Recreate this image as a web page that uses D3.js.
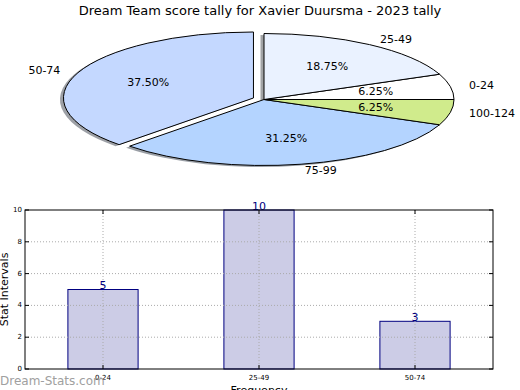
<!DOCTYPE html>
<html>
<head>
<meta charset="utf-8">
<script src="https://cdn.jsdelivr.net/npm/d3@7"></script>
<style>
  body { margin: 0; background: #fff; }
  svg { font-family: "DejaVu Sans", sans-serif; display: block; }
</style>
</head>
<body>
<div id="chart"></div>
<script>
// pie data (matplotlib order, counter-clockwise from 3 o'clock)
const pieLabels = ["0-24", "25-49", "50-74", "75-99", "100-124"];
const pieValues = [1, 3, 6, 5, 1];
const pieColors = ["#ffffff", "#eaf2ff", "#c4d8ff", "#b4d4ff", "#d0eb8c"];
const pieExplode = [0, 0, 0.06, 0, 0];

// bar data
const barCategories = ["0-24", "25-49", "50-74"];
const barValues = [5, 10, 3];
const yTicks = [0, 2, 4, 6, 8, 10];

const W = 520, H = 390;
const svg = d3.select("#chart").append("svg")
  .attr("width", W).attr("height", H);

svg.append("text")
  .attr("x", 260).attr("y", 15)
  .attr("text-anchor", "middle")
  .style("font-size", "13px")
  .text("Dream Team score tally for Xavier Duursma - 2023 tally");

// ---- pie ----
const cx = 264, cy = 99.5, rx = 190, ry = 66, R = 100;

const pie = d3.pie().sort(null)
  .startAngle(Math.PI / 2)
  .endAngle(Math.PI / 2 - 2 * Math.PI);
const arcs = pie(pieValues);
const arc = d3.arc().innerRadius(0).outerRadius(R);
const total = d3.sum(pieValues);

function offset(d, i) {
  const mid = (d.startAngle + d.endAngle) / 2;
  const e = pieExplode[i];
  return [e * rx * Math.sin(mid), -e * ry * Math.cos(mid)];
}

const pieG = svg.append("g");

// shadows first
arcs.forEach((d, i) => {
  const [ox, oy] = offset(d, i);
  const c = d3.rgb(pieColors[i]);
  pieG.append("path")
    .attr("d", arc(d))
    .attr("transform", `translate(${cx + ox - 3.5},${cy + oy + 1.5}) scale(${rx / R},${ry / R})`)
    .attr("fill", d3.rgb(c.r * 0.3, c.g * 0.3, c.b * 0.3))
    .attr("fill-opacity", 0.5);
});

arcs.forEach((d, i) => {
  const [ox, oy] = offset(d, i);
  pieG.append("path")
    .attr("d", arc(d))
    .attr("transform", `translate(${cx + ox},${cy + oy}) scale(${rx / R},${ry / R})`)
    .attr("fill", pieColors[i])
    .attr("stroke", "#000")
    .attr("stroke-width", 1)
    .attr("vector-effect", "non-scaling-stroke");
});

arcs.forEach((d, i) => {
  const [ox, oy] = offset(d, i);
  const mid = (d.startAngle + d.endAngle) / 2;
  const sx = Math.sin(mid), sy = -Math.cos(mid);
  // percentage
  pieG.append("text")
    .attr("x", cx + ox + 0.6 * rx * sx)
    .attr("y", cy + oy + 0.6 * ry * sy)
    .attr("text-anchor", "middle")
    .attr("dominant-baseline", "central")
    .style("font-size", "11px")
    .text((100 * d.value / total).toFixed(2) + "%");
  // outer label
  pieG.append("text")
    .attr("x", cx + ox + 1.1 * rx * sx)
    .attr("y", cy + oy + 1.1 * ry * sy)
    .attr("text-anchor", sx > 0 ? "start" : "end")
    .attr("dominant-baseline", "central")
    .style("font-size", "11px")
    .text(pieLabels[i]);
});

// ---- bar chart ----
const bx0 = 25, bx1 = 493, by0 = 210, by1 = 369;
const x = d3.scaleBand().domain(barCategories).range([bx0, bx1]);
const y = d3.scaleLinear().domain([0, 10]).range([by1, by0]);
const barW = x.bandwidth() * 0.45;

const barG = svg.append("g");

barG.selectAll(".bar")
  .data(barValues)
  .enter()
  .append("rect")
  .attr("class", "bar")
  .attr("x", (d, i) => x(barCategories[i]) + x.bandwidth() / 2 - barW / 2)
  .attr("y", (d) => y(d))
  .attr("width", barW)
  .attr("height", (d) => y(0) - y(d))
  .attr("fill", "#ccccE6")
  .attr("stroke", "#000080")
  .attr("stroke-width", 1);

// grid on top of bars
yTicks.slice(1, -1).forEach((t) => {
  barG.append("line")
    .attr("x1", bx0).attr("x2", bx1)
    .attr("y1", y(t)).attr("y2", y(t))
    .attr("stroke", "#aaa").attr("stroke-dasharray", "1,2");
});
barCategories.forEach((c) => {
  const cxb = x(c) + x.bandwidth() / 2;
  barG.append("line")
    .attr("x1", cxb).attr("x2", cxb)
    .attr("y1", by0).attr("y2", by1)
    .attr("stroke", "#aaa").attr("stroke-dasharray", "1,2");
});

// value labels
barG.selectAll(".val")
  .data(barValues)
  .enter()
  .append("text")
  .attr("class", "val")
  .attr("x", (d, i) => x(barCategories[i]) + x.bandwidth() / 2)
  .attr("y", (d) => y(d) - 0.5)
  .attr("text-anchor", "middle")
  .attr("fill", "#000080")
  .style("font-size", "11px")
  .text((d) => d);

// frame
barG.append("rect")
  .attr("x", bx0).attr("y", by0)
  .attr("width", bx1 - bx0).attr("height", by1 - by0)
  .attr("fill", "none").attr("stroke", "#000");

// ticks (inside) and labels
yTicks.forEach((t) => {
  barG.append("line").attr("x1", bx0).attr("x2", bx0 + 4)
    .attr("y1", y(t)).attr("y2", y(t)).attr("stroke", "#000");
  barG.append("line").attr("x1", bx1).attr("x2", bx1 - 4)
    .attr("y1", y(t)).attr("y2", y(t)).attr("stroke", "#000");
  barG.append("text")
    .attr("x", bx0 - 3).attr("y", y(t))
    .attr("text-anchor", "end")
    .attr("dominant-baseline", "central")
    .style("font-size", "7px")
    .text(t);
});
barCategories.forEach((c) => {
  const cxb = x(c) + x.bandwidth() / 2;
  barG.append("line").attr("x1", cxb).attr("x2", cxb)
    .attr("y1", by1).attr("y2", by1 - 4).attr("stroke", "#000");
  barG.append("line").attr("x1", cxb).attr("x2", cxb)
    .attr("y1", by0).attr("y2", by0 + 4).attr("stroke", "#000");
  barG.append("text")
    .attr("x", cxb).attr("y", by1 + 11)
    .attr("text-anchor", "middle")
    .style("font-size", "7px")
    .text(c);
});

// axis labels
svg.append("text")
  .attr("transform", `translate(8,${(by0 + by1) / 2}) rotate(-90)`)
  .attr("text-anchor", "middle")
  .style("font-size", "11px")
  .text("Stat Intervals");

svg.append("text")
  .attr("x", (bx0 + bx1) / 2).attr("y", 394)
  .attr("text-anchor", "middle")
  .style("font-size", "11px")
  .text("Frequency");

// watermark
svg.append("text")
  .attr("x", 0).attr("y", 385)
  .attr("fill", "#a0a0a0")
  .style("font-size", "12px")
  .text("Dream-Stats.com");
</script>
</body>
</html>
